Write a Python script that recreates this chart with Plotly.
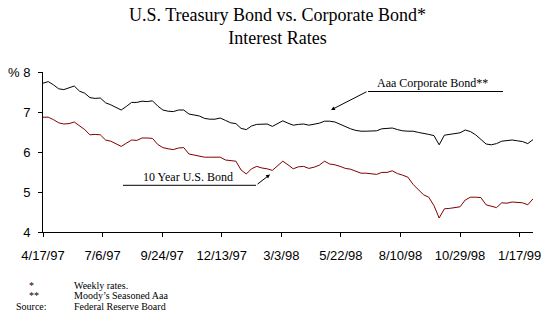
import pandas as pd
import plotly.graph_objects as go

# ---- data (weekly) ----
start_date = "1997-04-17"
n_weeks = 95
aaa_corporate = [
    7.72, 7.76, 7.68, 7.58, 7.56, 7.60, 7.65, 7.52, 7.47, 7.36,
    7.34, 7.35, 7.23, 7.18, 7.12, 7.05, 7.14, 7.24, 7.24, 7.27,
    7.26, 7.28, 7.15, 7.05, 7.02, 7.01, 7.05, 7.05, 6.95, 6.93,
    6.90, 6.84, 6.82, 6.82, 6.85, 6.79, 6.73, 6.71, 6.59, 6.56,
    6.65, 6.69, 6.70, 6.70, 6.64, 6.72, 6.78, 6.72, 6.67, 6.69,
    6.70, 6.67, 6.69, 6.72, 6.77, 6.77, 6.75, 6.69, 6.62, 6.58,
    6.54, 6.52, 6.52, 6.52, 6.53, 6.58, 6.59, 6.60, 6.56, 6.53,
    6.52, 6.52, 6.49, 6.47, 6.44, 6.41, 6.18, 6.42, 6.44, 6.46,
    6.48, 6.55, 6.51, 6.43, 6.32, 6.20, 6.18, 6.21, 6.27, 6.29,
    6.30, 6.28, 6.26, 6.21, 6.31,
]
treasury_10yr = [
    6.87, 6.87, 6.81, 6.73, 6.70, 6.71, 6.75, 6.66, 6.56, 6.43,
    6.44, 6.43, 6.30, 6.27, 6.21, 6.14, 6.22, 6.30, 6.29, 6.35,
    6.35, 6.34, 6.19, 6.11, 6.08, 6.06, 6.10, 6.11, 5.95, 5.92,
    5.89, 5.87, 5.87, 5.87, 5.87, 5.80, 5.78, 5.77, 5.55, 5.45,
    5.58, 5.64, 5.60, 5.58, 5.54, 5.66, 5.77, 5.68, 5.58, 5.63,
    5.64, 5.59, 5.62, 5.67, 5.77, 5.70, 5.68, 5.64, 5.59, 5.57,
    5.52, 5.47, 5.47, 5.45, 5.44, 5.49, 5.49, 5.53, 5.46, 5.42,
    5.37, 5.19, 5.06, 4.93, 4.87, 4.66, 4.35, 4.58, 4.59, 4.61,
    4.63, 4.80, 4.87, 4.87, 4.86, 4.68, 4.65, 4.61, 4.73, 4.72,
    4.75, 4.74, 4.73, 4.68, 4.83,
]
tick_labels = ["4/17/97", "7/6/97", "9/24/97", "12/13/97", "3/3/98",
               "5/22/98", "8/10/98", "10/29/98", "1/17/99"]
y_ticks = [4, 5, 6, 7, 8]
y_tick_labels = ["4", "5", "6", "7", "% 8"]

dates = pd.date_range(start_date, periods=n_weeks, freq="7D")
tick_dates = pd.date_range(start_date, periods=len(tick_labels), freq="80D")

fig = go.Figure()
fig.add_trace(go.Scatter(x=dates, y=aaa_corporate, mode="lines",
                         line=dict(color="black", width=1), name="Aaa Corporate Bond**"))
fig.add_trace(go.Scatter(x=dates, y=treasury_10yr, mode="lines",
                         line=dict(color="#800000", width=1), name="10 Year U.S. Bond"))

W, H = 555, 324
L, R, T, B = 43, 22, 72, 92
PW, PH = W - L - R, H - T - B

def px(x):
    return (x - L) / PW

def py(y):
    return (H - B - y) / PH

serif = "Liberation Serif, Times New Roman, serif"
sans = "Liberation Sans, Arial, sans-serif"

annotations = [
    dict(text="U.S. Treasury Bond vs. Corporate Bond*<br>Interest Rates",
         x=px(277.5), y=py(26.5), xref="paper", yref="paper", showarrow=False,
         xanchor="center", yanchor="middle", font=dict(family=serif, size=18, color="black")),
    dict(text="Aaa Corporate Bond**", x=px(375), y=py(83), xref="paper", yref="paper",
         showarrow=False, xanchor="left", yanchor="middle",
         font=dict(family=serif, size=12, color="black")),
    dict(text="10 Year U.S. Bond", x=px(141), y=py(177), xref="paper", yref="paper",
         showarrow=False, xanchor="left", yanchor="middle",
         font=dict(family=serif, size=12, color="black")),
    # arrows
    dict(text="", x=px(331), y=py(110), xref="paper", yref="paper",
         ax=368 - 331, ay=91 - 110, showarrow=True, arrowhead=2, arrowsize=0.8,
         arrowwidth=1, arrowcolor="black"),
    dict(text="", x=px(270), y=py(174.5), xref="paper", yref="paper",
         ax=256 - 270, ay=185.3 - 174.5, showarrow=True, arrowhead=2, arrowsize=0.8,
         arrowwidth=1, arrowcolor="black"),
]
foot_left = [("*", 27, 285), ("**", 27, 295.5), ("Source:", 14, 306)]
foot_right = [("Weekly rates.", 72, 285), ("Moody\u2019s Seasoned Aaa", 72, 295.5),
              ("Federal Reserve Board", 72, 306)]
for txt, x, y in foot_left + foot_right:
    annotations.append(dict(text=txt, x=px(x), y=py(y), xref="paper", yref="paper",
                            showarrow=False, xanchor="left", yanchor="middle",
                            font=dict(family=serif, size=10, color="black")))

shapes = [
    dict(type="line", xref="paper", yref="paper", x0=px(368), x1=px(503),
         y0=py(91.5), y1=py(91.5), line=dict(color="black", width=1)),
    dict(type="line", xref="paper", yref="paper", x0=px(123), x1=px(256),
         y0=py(185.3), y1=py(185.3), line=dict(color="black", width=1)),
]

fig.update_layout(
    width=W, height=H,
    margin=dict(l=L, r=R, t=T, b=B, pad=0, autoexpand=False),
    paper_bgcolor="white", plot_bgcolor="white",
    showlegend=False,
    annotations=annotations,
    shapes=shapes,
    xaxis=dict(range=[dates[0], dates[-1]], tickvals=tick_dates, ticktext=tick_labels,
               showgrid=False, zeroline=False, showline=True, linecolor="black", linewidth=1,
               ticks="outside", ticklen=4, tickcolor="black", tickwidth=1,
               ticklabelstandoff=7, automargin=False,
               tickfont=dict(family=sans, size=13, color="black")),
    yaxis=dict(range=[4, 8], tickvals=y_ticks, ticktext=y_tick_labels,
               showgrid=False, zeroline=False, showline=True, linecolor="black", linewidth=1,
               ticks="outside", ticklen=4, tickcolor="black", tickwidth=1,
               ticklabelstandoff=5, automargin=False,
               tickfont=dict(family=sans, size=13, color="black")),
)

fig.write_html("out.html")
